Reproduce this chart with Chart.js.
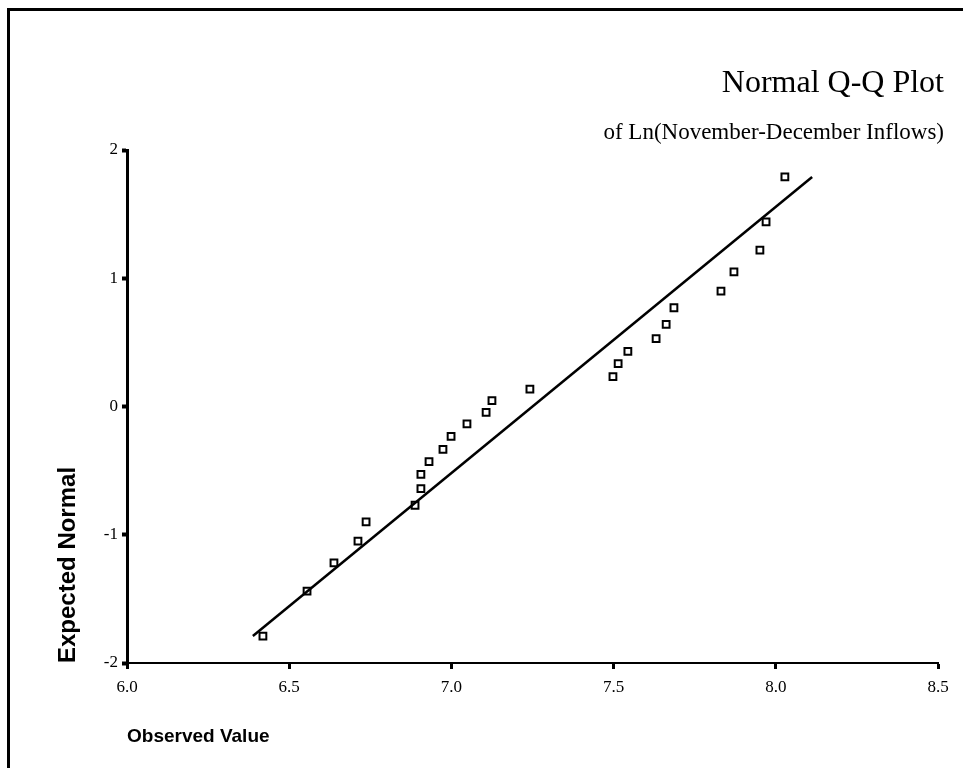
<!DOCTYPE html>
<html>
<head>
<meta charset="utf-8">
<script src="https://cdn.jsdelivr.net/npm/chart.js@4"></script>
<style>
  html, body { margin: 0; padding: 0; background: #fff; }
  #wrap { position: relative; width: 963px; height: 768px; overflow: hidden; }
  #frame { position: absolute; left: 7px; top: 8px; width: 960px; height: 770px;
           border-top: 3px solid #000; border-left: 3px solid #000; box-sizing: border-box; pointer-events: none; }
  canvas { position: absolute; left: 0; top: 0; }
</style>
</head>
<body>
<div id="wrap">
  <canvas id="c" width="963" height="768"></canvas>
  <div id="frame"></div>
</div>
<script>
// Chart texts
const chartTitle = "Normal Q-Q Plot";
const chartSubtitle = "of Ln(November-December Inflows)";
const xAxisTitle = "Observed Value";
const yAxisTitle = "Expected Normal";

// Axis ticks
const xTickValues = [6.0, 6.5, 7.0, 7.5, 8.0, 8.5];
const yTickValues = [-2, -1, 0, 1, 2];

// Observed values (ln of inflows) and expected normal values
const observed = [6.419, 6.555, 6.638, 6.712, 6.737, 6.888, 6.906, 6.906, 6.931, 6.974,
                  6.999, 7.048, 7.107, 7.125, 7.242, 7.498, 7.514, 7.544, 7.631, 7.662,
                  7.686, 7.831, 7.871, 7.951, 7.970, 8.028];
const expected = [-1.79, -1.44, -1.22, -1.05, -0.90, -0.77, -0.64, -0.53, -0.43, -0.335,
                  -0.233, -0.136, -0.046, 0.046, 0.136, 0.233, 0.335, 0.43, 0.53, 0.64,
                  0.77, 0.90, 1.05, 1.22, 1.44, 1.79];

// Reference line endpoints
const lineX = [6.388, 8.112];
const lineY = [-1.79, 1.79];

const points = observed.map((v, i) => ({ x: v, y: expected[i] }));
const linePts = lineX.map((v, i) => ({ x: v, y: lineY[i] }));

const titlePlugin = {
  id: 'titles',
  afterDraw(chart) {
    const ctx = chart.ctx;
    ctx.save();
    ctx.fillStyle = '#000';
    ctx.textAlign = 'right';
    ctx.textBaseline = 'alphabetic';
    ctx.font = '32px "Liberation Serif", "Times New Roman", serif';
    ctx.fillText(chartTitle, 944, 92);
    ctx.font = '23px "Liberation Serif", "Times New Roman", serif';
    ctx.fillText(chartSubtitle, 944, 139);
    ctx.restore();
  }
};

new Chart(document.getElementById('c'), {
  type: 'scatter',
  data: {
    datasets: [
      {
        type: 'line',
        data: linePts,
        borderColor: '#000',
        borderWidth: 2.5,
        pointRadius: 0,
        fill: false,
        tension: 0
      },
      {
        data: points,
        pointStyle: 'rect',
        pointRadius: 4.8,
        pointBorderWidth: 2,
        pointBorderColor: '#000',
        pointBackgroundColor: '#fff'
      }
    ]
  },
  options: {
    responsive: false,
    animation: false,
    devicePixelRatio: 1,
    layout: { padding: { top: 150, right: 25, left: 0, bottom: 0 } },
    plugins: { legend: { display: false }, tooltip: { enabled: false } },
    scales: {
      x: {
        type: 'linear',
        min: 6, max: 8.5,
        afterBuildTicks(scale) { scale.ticks = xTickValues.map(v => ({ value: v })); },
        afterFit(scale) { scale.height = 105; },
        border: { display: true, color: '#000', width: 2 },
        grid: { drawOnChartArea: false, drawTicks: true, tickLength: 6, tickWidth: 3, color: '#000' },
        ticks: {
          color: '#000',
          padding: 8,
          font: { family: '"Liberation Serif", "Times New Roman", serif', size: 17 },
          callback: v => Number(v).toFixed(1)
        },
        title: {
          display: true,
          text: xAxisTitle,
          align: 'start',
          color: '#000',
          padding: { top: 0, bottom: 20 },
          font: { family: '"Liberation Sans", Arial, sans-serif', size: 19, weight: 'bold' }
        }
      },
      y: {
        type: 'linear',
        min: -2, max: 2,
        afterBuildTicks(scale) { scale.ticks = yTickValues.map(v => ({ value: v })); },
        afterFit(scale) { scale.width = 127; },
        border: { display: true, color: '#000', width: 3 },
        grid: { drawOnChartArea: false, drawTicks: true, tickLength: 5, tickWidth: 4, color: '#000' },
        ticks: {
          color: '#000',
          padding: 4,
          font: { family: '"Liberation Serif", "Times New Roman", serif', size: 17 },
          callback: v => String(v)
        },
        title: {
          display: true,
          text: yAxisTitle,
          align: 'start',
          color: '#000',
          padding: { top: 54, bottom: 0 },
          font: { family: '"Liberation Sans", Arial, sans-serif', size: 24, weight: 'bold' }
        }
      }
    }
  },
  plugins: [titlePlugin]
});
</script>
</body>
</html>
